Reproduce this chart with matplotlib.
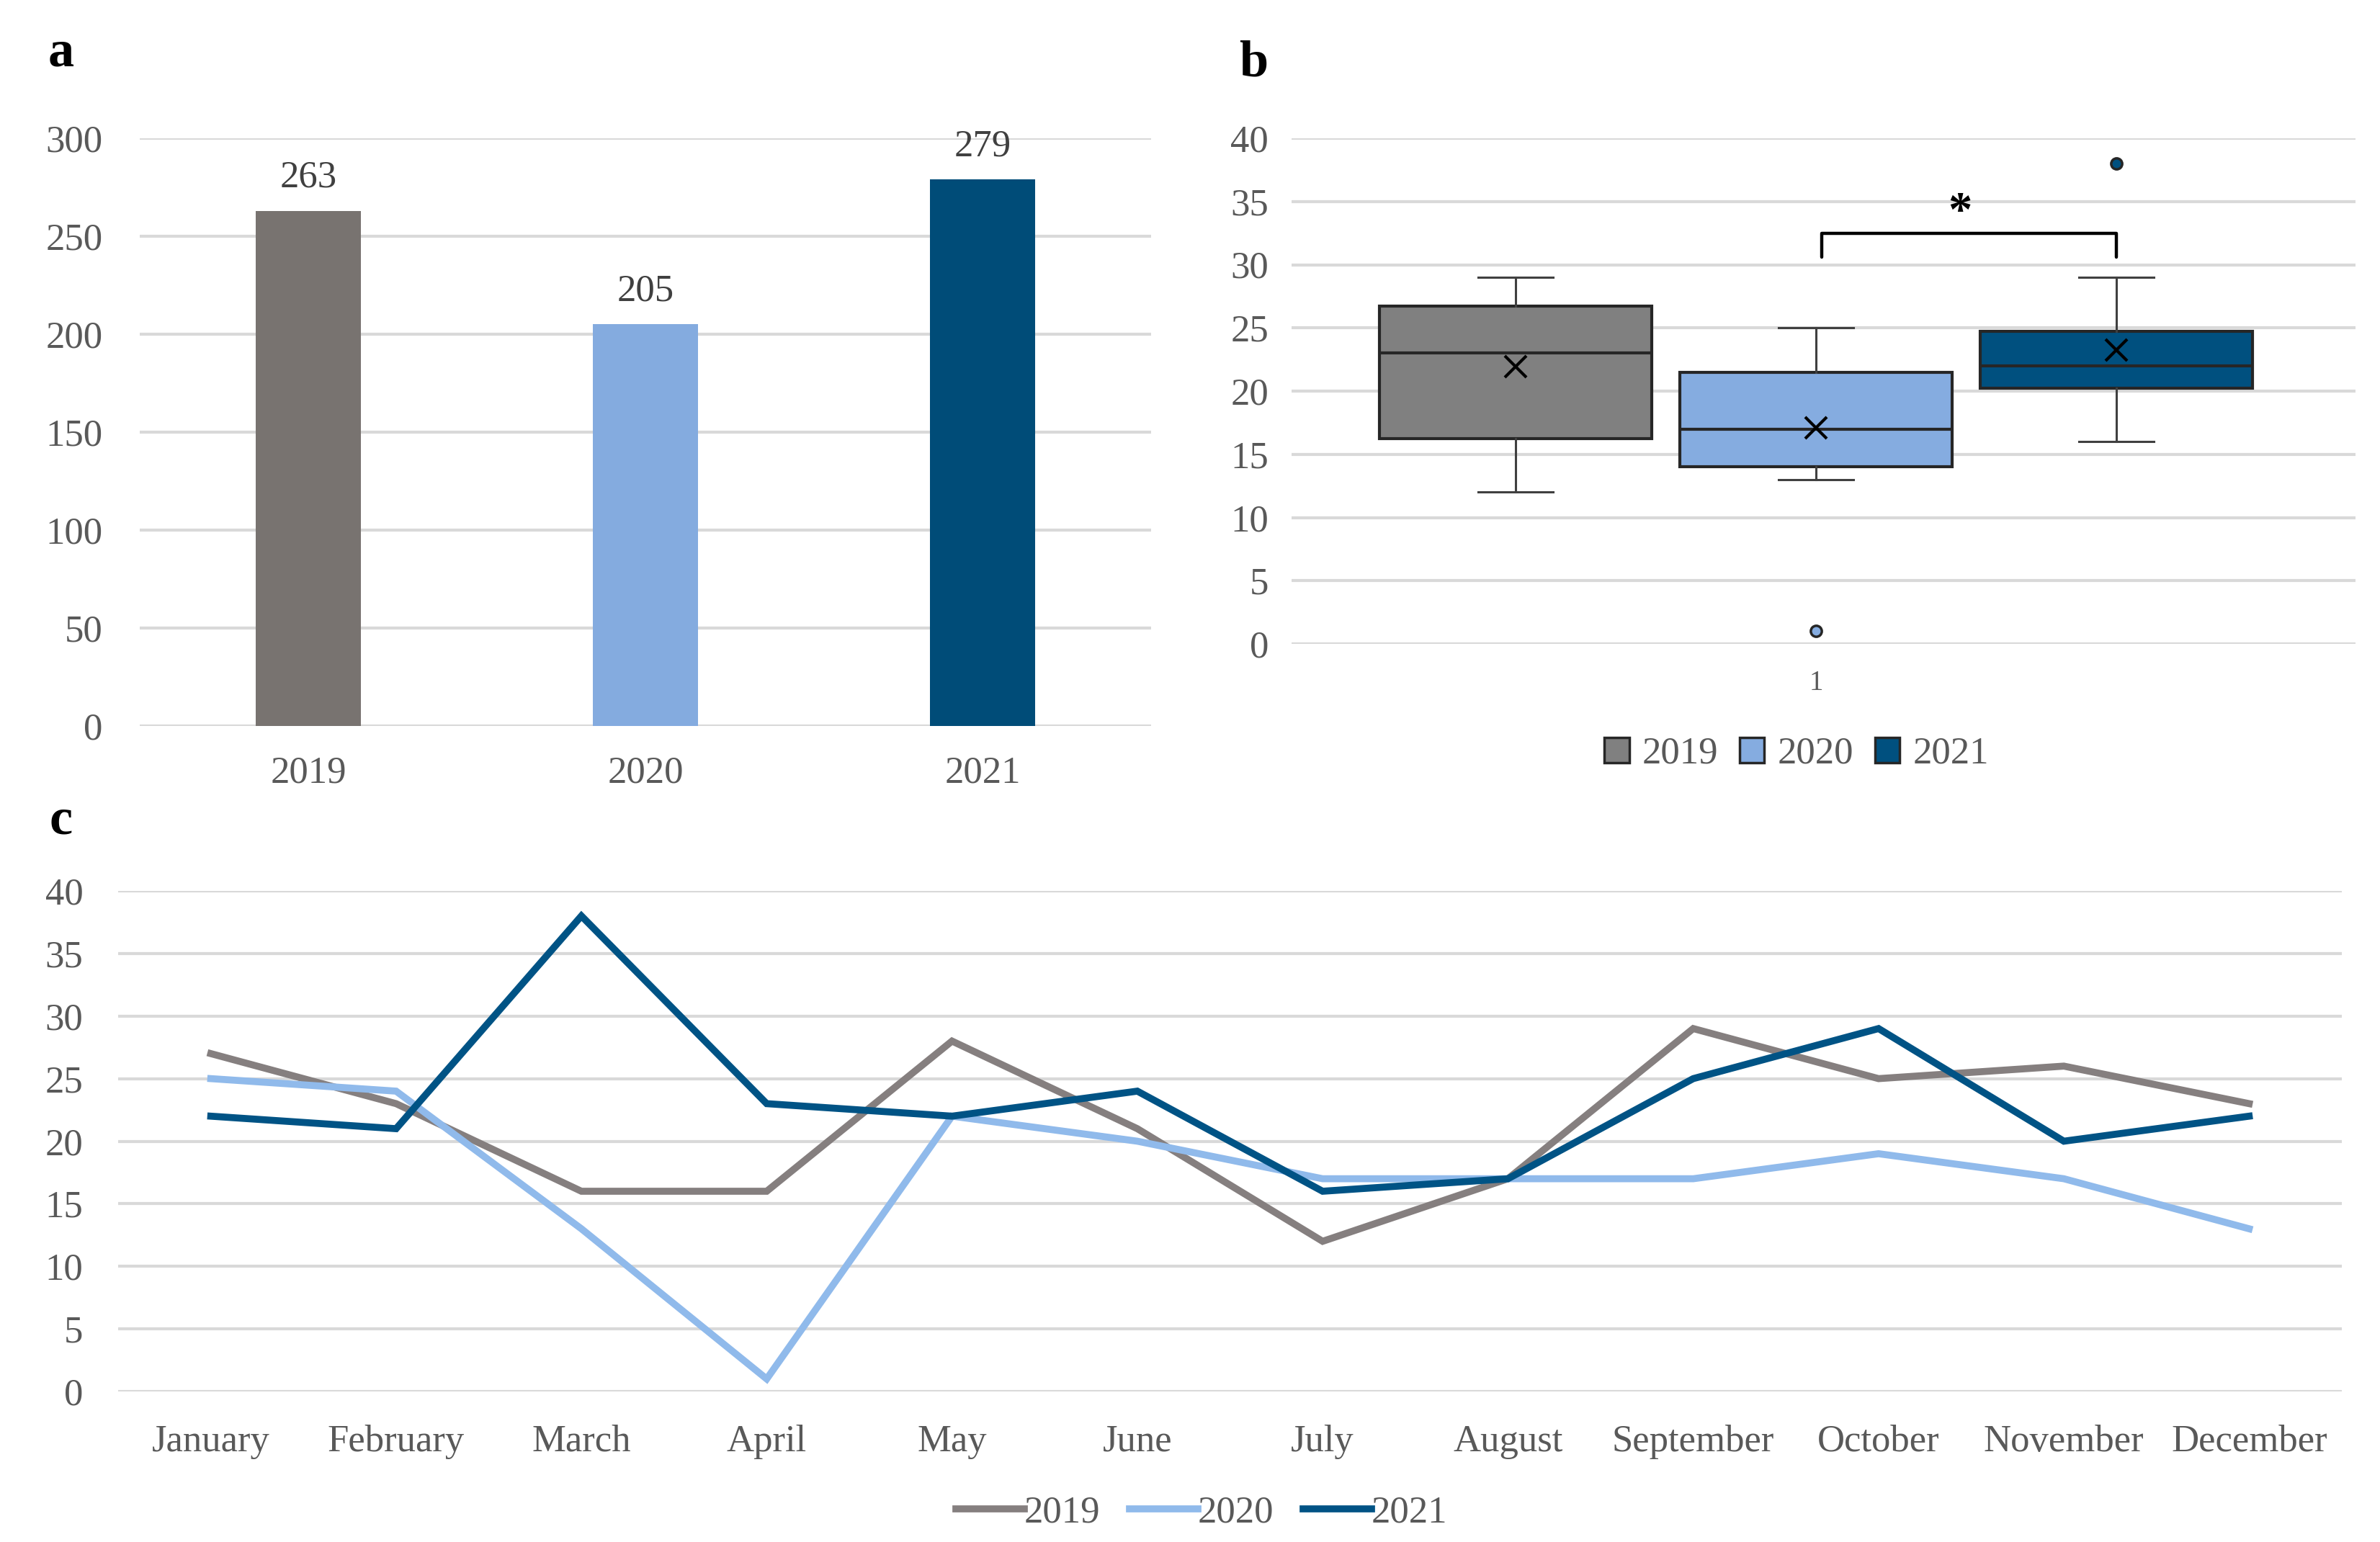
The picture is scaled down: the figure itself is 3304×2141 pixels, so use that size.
import numpy as np
import matplotlib
matplotlib.use("Agg")
import matplotlib.pyplot as plt
from matplotlib.patches import Patch

# --- data ---
years = ["2019", "2020", "2021"]
totals = [263, 205, 279]
months = ["January", "February", "March", "April", "May", "June", "July",
          "August", "September", "October", "November", "December"]
cases_2019 = [27, 23, 16, 16, 28, 21, 12, 17, 29, 25, 26, 23]
cases_2020 = [25, 24, 13, 1, 22, 20, 17, 17, 17, 19, 17, 13]
cases_2021 = [22, 21, 38, 23, 22, 24, 16, 17, 25, 29, 20, 22]

bar_colors = ["#787370", "#84ABDF", "#004C78"]
box_colors = ["#808080", "#85ACE0", "#00507F"]
line_colors = ["#857F7F", "#90BAEB", "#005385"]

plt.rcParams['font.family'] = ['Liberation Serif', 'DejaVu Serif']
tick_col = "#595959"
grid_col = "#D9D9D9"
fs = 38

W, H = 3305, 2141
fig = plt.figure(figsize=(W / 100, H / 100), dpi=100)


def box(x0, y0, x1, y1):
    # pixel box (top-left origin) -> figure fraction
    return [x0 / W, 1 - y1 / H, (x1 - x0) / W, (y1 - y0) / H]


def style_axes(ax):
    for s in ax.spines.values():
        s.set_visible(False)
    ax.yaxis.grid(True, color=grid_col, lw=3)
    ax.set_axisbelow(True)
    ax.tick_params(length=0, labelsize=fs, labelcolor=tick_col)


# Excel-style quartiles (exclusive method)
def excel_box_stats(values, label):
    v = np.sort(np.asarray(values, dtype=float))
    q1, med, q3 = np.percentile(v, [25, 50, 75], method="weibull")
    iqr = q3 - q1
    lo, hi = q1 - 1.5 * iqr, q3 + 1.5 * iqr
    inside = v[(v >= lo) & (v <= hi)]
    return dict(label=label, med=med, q1=q1, q3=q3, mean=v.mean(),
                whislo=inside.min(), whishi=inside.max(),
                fliers=v[(v < lo) | (v > hi)])


# ---------- a: yearly totals ----------
ax_a = fig.add_axes(box(194, 192, 1598, 1008))
style_axes(ax_a)
xa = np.arange(len(years))
bars = ax_a.bar(xa, totals, width=0.31, color=bar_colors)
for b, v in zip(bars, totals):
    ax_a.annotate(str(v), (b.get_x() + b.get_width() / 2, v), xytext=(0, 33),
                  textcoords="offset points", ha="center", va="center",
                  fontsize=fs, color="#404040")
ax_a.set_xlim(-0.5, 2.5)
ax_a.set_ylim(0, 300)
ax_a.set_yticks(range(0, 301, 50))
ax_a.set_xticks(xa, years)
ax_a.tick_params(axis="y", pad=37)
ax_a.tick_params(axis="x", pad=30)

# ---------- b: box plots ----------
ax_b = fig.add_axes(box(1793, 192, 3270, 894))
style_axes(ax_b)
stats = [excel_box_stats(c, y) for c, y in zip([cases_2019, cases_2020, cases_2021], years)]
bp = ax_b.bxp(stats, positions=[1, 2, 3], widths=0.905, capwidths=0.25,
              patch_artist=True, showmeans=True,
              boxprops=dict(edgecolor="#262626", linewidth=3),
              medianprops=dict(color="#262626", linewidth=3),
              whiskerprops=dict(color="#404040", linewidth=2.2),
              capprops=dict(color="#404040", linewidth=2.2),
              meanprops=dict(marker="x", markersize=22, markeredgewidth=3,
                             markeredgecolor="black"),
              flierprops=dict(marker="o", markersize=11, markeredgewidth=2.5,
                              markeredgecolor="#262626"))
for patch, c in zip(bp["boxes"], box_colors):
    patch.set_facecolor(c)
for fl, c in zip(bp["fliers"], box_colors):
    fl.set_markerfacecolor(c)
ax_b.set_xlim(0.254, 3.796)
ax_b.set_ylim(0, 40)
ax_b.set_yticks(range(0, 41, 5))
ax_b.set_xticks([2], ["1"])
ax_b.tick_params(axis="y", pad=23)
ax_b.tick_params(axis="x", pad=26, labelsize=28)

# significance bracket 2020 vs 2021
ax_b.plot([2.02, 2.02, 3.0, 3.0], [30.6, 32.5, 32.5, 30.6], color="black",
          lw=3.2, solid_joinstyle="round", solid_capstyle="round")
ax_b.text(2.48, 34.1, "*", ha="center", va="center", fontsize=48,
          fontweight="bold", color="black")

ax_b.legend(handles=[Patch(facecolor=c, edgecolor="#262626", lw=2.5, label=y)
                     for c, y in zip(box_colors, years)],
            loc="center", bbox_to_anchor=(2494 / W, 1 - 1047 / H),
            bbox_transform=fig.transFigure, ncol=3, frameon=False,
            fontsize=fs, labelcolor=tick_col, handlelength=0.65,
            handleheight=0.65, handletextpad=0.34, columnspacing=0.57)

# ---------- c: monthly series ----------
ax_c = fig.add_axes(box(164, 1237, 3251, 1932))
style_axes(ax_c)
xm = np.arange(len(months))
for vals, c, y in zip([cases_2019, cases_2020, cases_2021], line_colors, years):
    ax_c.plot(xm, vals, color=c, lw=7, label=y, solid_joinstyle="miter")
ax_c.set_xlim(-0.5, 11.5)
ax_c.set_ylim(0, 40)
ax_c.set_yticks(range(0, 41, 5))
ax_c.set_xticks(xm, months)
ax_c.tick_params(axis="y", pad=35)
ax_c.tick_params(axis="x", pad=33)
ax_c.legend(loc="center", bbox_to_anchor=(1668 / W, 1 - 2100 / H),
            bbox_transform=fig.transFigure, ncol=3, frameon=False,
            fontsize=fs, labelcolor=tick_col, handlelength=1.8,
            handletextpad=0.0, columnspacing=0.77)

# panel letters
for lbl, (px, py) in zip("abc", [(85, 74), (1740, 88), (85, 1140)]):
    fig.text(px / W, 1 - py / H, lbl, ha="center", va="center",
             fontsize=52, fontweight="bold", color="black")

fig.savefig("out.png", dpi=100, facecolor="white")
